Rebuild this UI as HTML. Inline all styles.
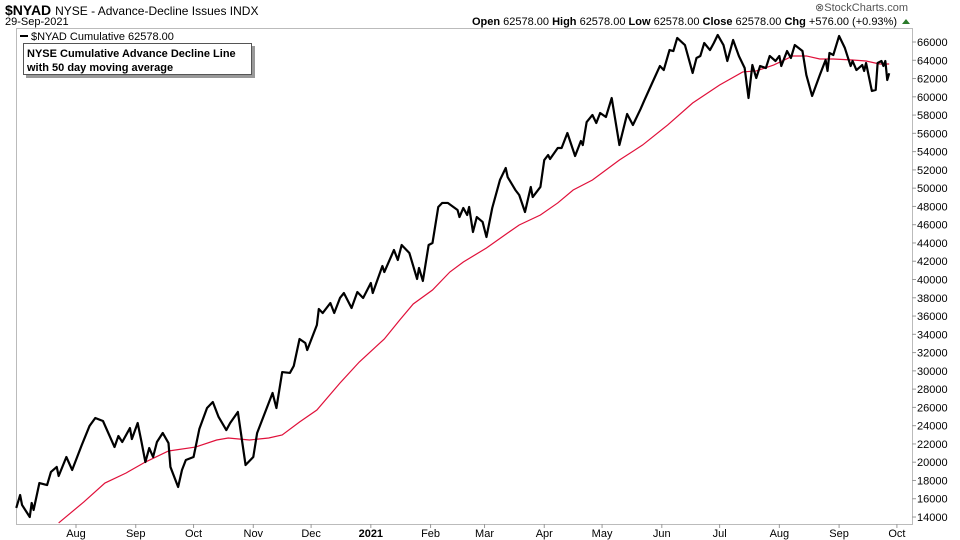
<!DOCTYPE html>
<html><head><meta charset="utf-8"><style>
body{margin:0;background:#fff;font-family:"Liberation Sans",Arial,sans-serif;}
#wrap{position:relative;width:960px;height:540px;overflow:hidden;}
svg text{font-family:"Liberation Sans",Arial,sans-serif;}
</style></head><body>
<div id="wrap">
<svg id="chart" width="960" height="540">
<text x="5" y="15" font-size="14" font-weight="bold">$NYAD <tspan font-weight="normal" font-size="12">NYSE - Advance-Decline Issues INDX</tspan></text>
<text x="5" y="25" font-size="11">29-Sep-2021</text>
<text x="908" y="11" font-size="11" fill="#555" text-anchor="end">⊗StockCharts.com</text>
<text x="897" y="25" font-size="11" text-anchor="end"><tspan font-weight="bold">Open</tspan> 62578.00  <tspan font-weight="bold">High</tspan> 62578.00  <tspan font-weight="bold">Low</tspan> 62578.00  <tspan font-weight="bold">Close</tspan> 62578.00  <tspan font-weight="bold">Chg</tspan> +576.00 (+0.93%)</text>
<polygon points="902,24 910,24 906,19" fill="#2a7a2a"/>
<rect x="16.5" y="28.5" width="896" height="496" fill="none" stroke="#bbb"/>
<g id="grid"></g>
<g id="series"></g>
<line x1="20" y1="36" x2="28" y2="36" stroke="#000" stroke-width="2"/>
<text x="31" y="40" font-size="11">$NYAD Cumulative 62578.00</text>
<rect x="26" y="46" width="229" height="32" fill="#999"/>
<rect x="23.5" y="43.5" width="228" height="31" fill="#fff" stroke="#555"/>
<text x="27" y="57" font-size="11" font-weight="bold">NYSE Cumulative Advance Decline Line</text>
<text x="27" y="71" font-size="11" font-weight="bold">with 50 day moving average</text>
</svg></div>
<script>
// days since 2020-08-01 (calendar), values in thousands
const adDays=[-31,-29,-28,-24,-23,-22,-19,-15,-13,-10,-9,-5,-2,3,7,10,14,20,22,24,28,29,32,34,36,38,40,42,45,48,49,53,55,57,61,64,68,71,74,78,80,84,88,92,94,98,102,104,107,111,113,116,119,120,125,126,128,132,134,137,139,143,146,149,153,154,159,160,165,167,169,173,177,178,180,183,185,188,190,193,198,199,201,203,204,206,208,211,213,216,220,223,224,228,230,233,236,237,241,243,245,246,250,252,255,259,262,263,265,268,270,272,275,278,282,286,289,293,295,299,303,305,308,310,312,316,320,322,324,326,329,331,333,336,338,341,344,347,349,351,353,355,358,360,363,365,366,369,371,373,377,379,382,386,389,390,391,393,396,399,402,403,405,408,409,410,413,415,416,418,419,420,421,422];
const adValues=[14.99,16.41,15.32,14.0,15.54,14.77,17.72,17.5,18.93,19.48,18.49,20.57,19.15,21.88,23.96,24.84,24.51,21.66,22.87,22.21,23.74,22.54,24.29,22.21,20.02,21.55,20.57,22.21,23.2,22.1,19.48,17.29,19.15,20.24,20.57,23.63,25.93,26.59,24.95,23.52,24.29,25.5,19.69,20.57,23.2,25.39,27.58,25.93,29.87,29.77,30.53,33.49,33.05,32.28,35.02,36.77,36.33,37.43,36.33,37.98,38.52,36.88,38.63,37.98,39.62,38.52,41.48,40.82,43.23,42.14,43.78,42.9,40.06,41.26,39.84,43.78,44.0,47.94,48.38,48.38,47.61,46.84,47.83,47.06,47.94,45.2,46.84,46.3,44.65,47.83,50.89,52.21,51.22,49.8,49.25,47.39,50.13,49.03,50.13,53.08,53.63,53.19,54.4,54.4,56.04,53.52,55.16,54.72,57.24,58.01,57.13,58.23,57.79,59.87,54.72,58.12,56.91,58.67,59.65,61.51,63.37,62.93,65.12,65.01,66.44,65.67,62.61,64.25,64.47,65.89,65.12,65.89,66.77,65.67,63.92,66.22,64.47,63.15,59.87,63.48,62.06,63.37,63.15,64.47,63.92,64.47,63.37,65.01,64.25,65.67,65.01,62.39,60.09,62.39,64.03,62.83,64.8,64.58,66.66,65.34,63.37,63.92,62.93,63.48,62.83,63.7,60.64,60.75,63.7,63.92,63.37,63.92,61.84,62.58];
const maDays=[-9,4,15,26,36,48,62,73,79,90,100,107,116,125,137,147,160,168,175,185,194,201,213,224,230,241,250,258,268,282,294,307,320,334,346,353,362,372,379,386,393,403,410,417,422];
const maValues=[13.35,15.64,17.72,18.82,20.02,21.23,21.66,22.43,22.65,22.43,22.65,22.98,24.4,25.71,28.67,30.97,33.49,35.57,37.32,38.85,40.82,41.92,43.45,45.09,45.97,47.06,48.38,49.8,50.89,53.08,54.72,56.91,59.32,61.29,62.72,62.83,63.48,64.47,64.47,64.14,64.14,64.03,63.92,63.59,63.59];
const yTicks=[14000,16000,18000,20000,22000,24000,26000,28000,30000,32000,34000,36000,38000,40000,42000,44000,46000,48000,50000,52000,54000,56000,58000,60000,62000,64000,66000];
const xLabels=["Aug","Sep","Oct","Nov","Dec","2021","Feb","Mar","Apr","May","Jun","Jul","Aug","Sep","Oct"];
const xLabelDays=[0,31,61,92,122,153,184,212,243,273,304,334,365,396,426];

const NS="http://www.w3.org/2000/svg";
function xs(d){return 76+d*1.927;}
function ys(v){return 42+(66-v)/0.10947;}
function mk(tag,attrs,parent){const e=document.createElementNS(NS,tag);for(const k in attrs)e.setAttribute(k,attrs[k]);parent.appendChild(e);return e;}
const grid=document.getElementById('grid'),series=document.getElementById('series');
yTicks.forEach(t=>{
  const y=ys(t/1000);
  const tk=mk('line',{x1:912,x2:916,y1:y,y2:y,stroke:'#999'},grid);
  
  
  const tx=mk('text',{x:917,y:y+4,'font-size':11},grid);
  tx.textContent=String(t);
  
  
});
xLabels.forEach((l,i)=>{
  const x=xs(xLabelDays[i]);
  const tk=mk('line',{x1:x,x2:x,y1:524,y2:528,stroke:'#999'},grid);
  
  
  const tx=mk('text',{x:x,y:537,'font-size':11,'text-anchor':'middle'},grid);
  if(l==="2021")tx.setAttribute('font-weight','bold');
  tx.textContent=l;
  
  
});
const ma=mk('polyline',{points:maDays.map((d,i)=>xs(d)+','+ys(maValues[i])).join(' '),fill:'none',stroke:'#e0103a','stroke-width':1.2},series);


const ad=mk('polyline',{points:adDays.map((d,i)=>xs(d)+','+ys(adValues[i])).join(' '),fill:'none',stroke:'#000','stroke-width':2.2,'stroke-linejoin':'round'},series);


</script>
</body></html>
